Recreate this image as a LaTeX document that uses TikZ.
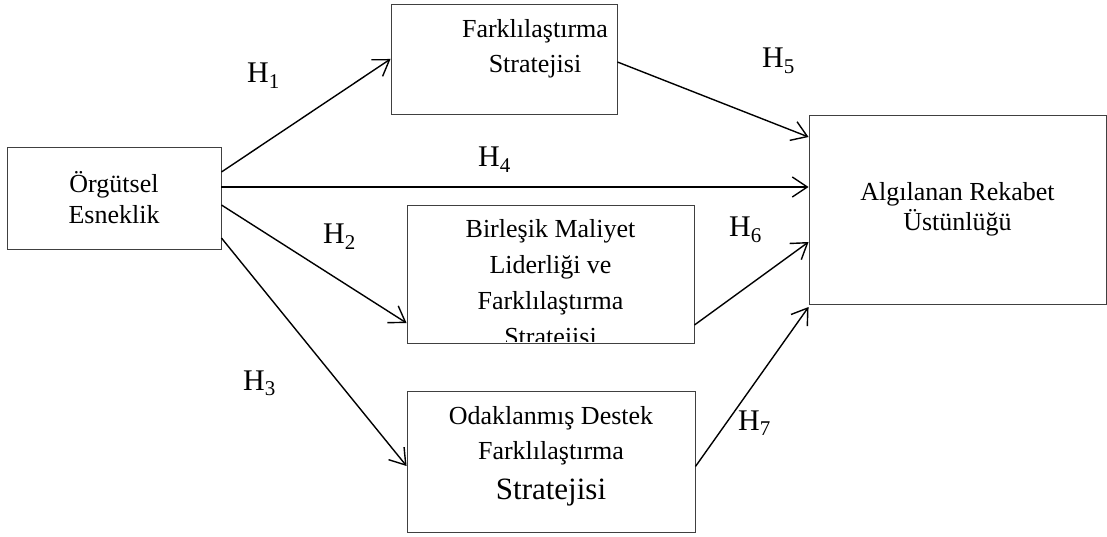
\documentclass[tikz,border=0pt]{standalone}
\usepackage{fontspec}
\setmainfont{Liberation Serif}
\usetikzlibrary{arrows.meta, positioning}

\tikzset{
  kutu/.style={draw=black!75, line width=0.9pt, rectangle, inner sep=0pt},
  metin/.style={align=center, inner sep=0pt, font=\fontsize{26}{35}\selectfont},
  hip/.style={anchor=base west, inner sep=0pt, font=\fontsize{30}{36}\selectfont},
  ok/.style={line width=1.4pt, -{Straight Barb[length=15pt, width=20pt, line width=1.4pt]}},
}

\begin{document}
\begin{tikzpicture}[x=1pt, y=1pt]
\useasboundingbox (0,0) rectangle (1107,536);
% Kutular
\node[kutu, metin, font=\fontsize{26}{31}\selectfont, minimum width=214pt, minimum height=102pt] (orgut) at (114,338) {Örgütsel\\Esneklik};
\node[kutu, minimum width=226pt, minimum height=110pt] (fark) at (504,477) {};
\node[metin, below=16pt of fark.north, xshift=31pt] (farkyazi) {Farklılaştırma\\Stratejisi};
\node[kutu, minimum width=287pt, minimum height=138pt] (bml) at (550.5,262) {};
\begin{scope}
  \clip ([yshift=1.5pt]bml.south west) rectangle (bml.north east);
  \node[metin, font=\fontsize{26}{36}\selectfont, below=15pt of bml.north] (bmlyazi) {Birleşik Maliyet\\Liderliği ve\\Farklılaştırma\\Stratejisi};
\end{scope}
\node[kutu, minimum width=288pt, minimum height=141pt] (odak) at (551,74.5) {};
\node[metin, below=16pt of odak.north] (odakyazi) {Odaklanmış Destek\\Farklılaştırma\\[5pt]{\fontsize{31}{40}\selectfont Stratejisi}};
\node[kutu, metin, font=\fontsize{26}{30}\selectfont, minimum width=297pt, minimum height=189pt] (alg) at (957.5,326.5) {Algılanan Rekabet\\Üstünlüğü};

% Hipotezler
\node[hip] (h1) at (247,453) {H\textsubscript{1}};
\node[hip] (h2) at (323,292) {H\textsubscript{2}};
\node[hip] (h3) at (243,146) {H\textsubscript{3}};
\node[hip] (h4) at (478,369) {H\textsubscript{4}};
\node[hip] (h5) at (762,468) {H\textsubscript{5}};
\node[hip] (h6) at (729,299) {H\textsubscript{6}};
\node[hip] (h7) at (738,106) {H\textsubscript{7}};

% Oklar
\draw[ok] ([yshift=26pt]orgut.east) -- (fark.west);
\draw[ok] ([yshift=11pt]orgut.east) -- ([yshift=22.5pt]alg.west);
\draw[ok] ([yshift=-7pt]orgut.east) -- ([yshift=-49pt]bml.west);
\draw[ok] ([yshift=-40pt]orgut.east) -- ([yshift=-4.5pt]odak.west);
\draw[ok] ([yshift=-3pt]fark.east) -- ([yshift=72.5pt]alg.west);
\draw[ok] ([yshift=-51pt]bml.east) -- ([yshift=-32.5pt]alg.west);
\draw[ok] ([yshift=-5pt]odak.east) -- ([yshift=-97.5pt]alg.west);
\end{tikzpicture}
\end{document}
